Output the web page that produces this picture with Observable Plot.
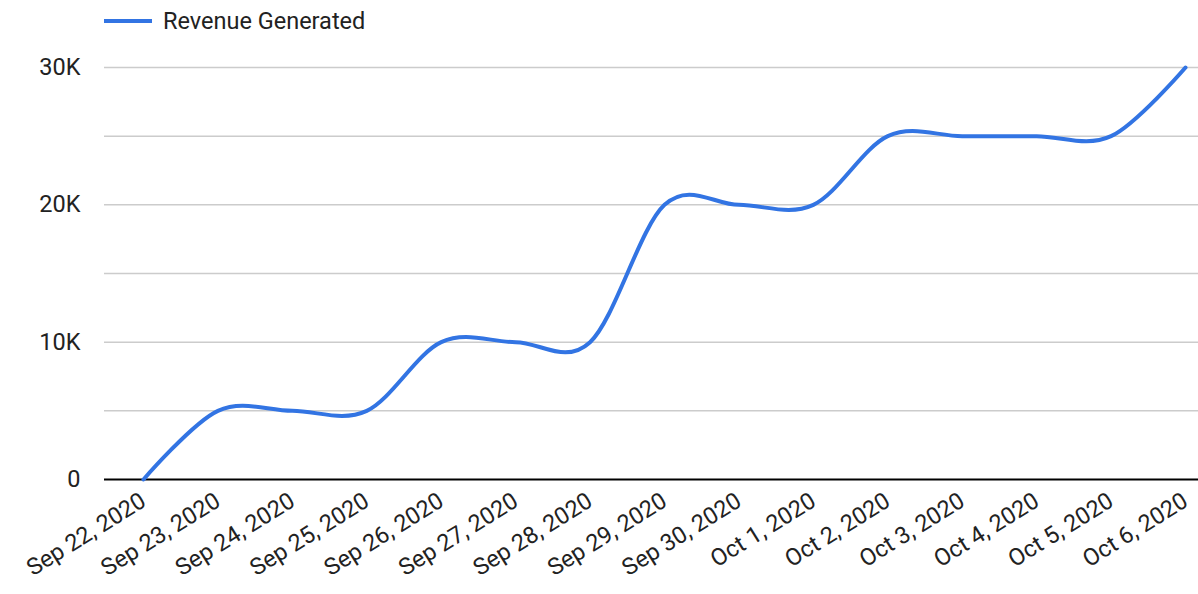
<!DOCTYPE html>
<html>
<head>
<meta charset="utf-8">
<script src="https://cdn.jsdelivr.net/npm/d3@7"></script>
<script src="https://cdn.jsdelivr.net/npm/@observablehq/plot@0.6"></script>
<style>
  html, body { margin: 0; padding: 0; background: #fff; }
  body { width: 1198px; height: 594px; overflow: hidden; font-family: Roboto, sans-serif; }
  #legend { position: relative; height: 40px; }
  #legend .sw { position: absolute; left: 104px; top: 19px; width: 48px; height: 4px; background: #3274e3; }
  #legend .lb { position: absolute; left: 163px; top: 6px; font-size: 23.5px; color: #222; line-height: 30px; }
</style>
</head>
<body>
<div id="legend"><div class="sw"></div><div class="lb">Revenue Generated</div></div>
<div id="chart"></div>
<script>
const dates = ["2020-09-22","2020-09-23","2020-09-24","2020-09-25","2020-09-26","2020-09-27","2020-09-28","2020-09-29","2020-09-30","2020-10-01","2020-10-02","2020-10-03","2020-10-04","2020-10-05","2020-10-06"];
const revenue = [0, 5000, 5000, 5000, 10000, 10000, 10000, 20000, 20000, 20000, 25000, 25000, 25000, 25000, 30000];
const gridValues = [5000, 10000, 15000, 20000, 25000, 30000];
const yTickValues = [0, 10000, 20000, 30000];
const seriesName = "Revenue Generated";

const data = dates.map((d, i) => ({date: new Date(d + "T00:00:00Z"), value: revenue[i]}));
const fmtDate = d3.utcFormat("%b %-d, %Y");
const fmtY = v => v === 0 ? "0" : (v / 1000) + "K";

const chart = Plot.plot({
  width: 1198,
  height: 554,
  marginTop: 27,
  marginBottom: 115,
  marginLeft: 104,
  marginRight: 0,
  style: {fontFamily: "Roboto, sans-serif", fontSize: "23.5px", color: "#222", background: "#fff"},
  x: {type: "utc", domain: [data[0].date, data[data.length - 1].date], insetLeft: 39, insetRight: 13},
  y: {domain: [0, 30000]},
  marks: [
    Plot.ruleY(gridValues, {stroke: "#cccccc", strokeWidth: 1.5}),
    Plot.ruleY([0], {stroke: "#000", strokeWidth: 2}),
    Plot.axisY({ticks: yTickValues, tickFormat: fmtY, tickSize: 0, tickPadding: 24, fontSize: 23.5, fill: "#222", label: null}),
    Plot.axisX({ticks: data.map(d => d.date), tickFormat: fmtDate, tickSize: 0, tickPadding: 19, tickRotate: -32, fontSize: 23.5, fill: "#222", label: null}),
    Plot.line(data, {x: "date", y: "value", stroke: "#3274e3", strokeWidth: 4, curve: "cardinal", title: () => seriesName})
  ]
});
document.getElementById("chart").appendChild(chart);
</script>
</body>
</html>
